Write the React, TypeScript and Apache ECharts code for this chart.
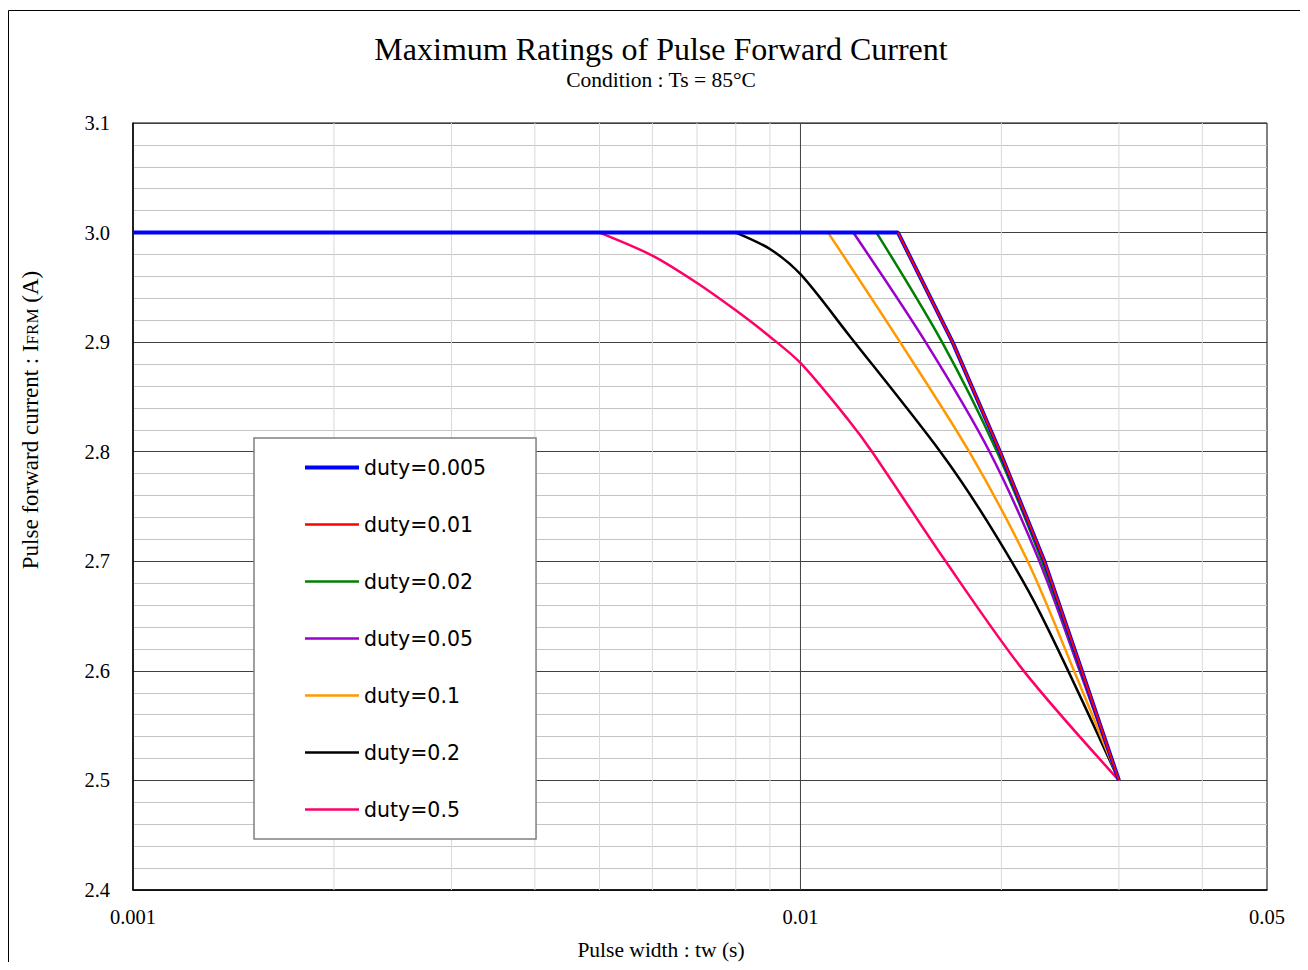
import React, { useEffect, useRef } from "react";
import * as echarts from "echarts";

const seriesNames = ["duty=0.005", "duty=0.01", "duty=0.02", "duty=0.05", "duty=0.1", "duty=0.2", "duty=0.5"];
const seriesColors = ["#0000FF", "#FF0000", "#008000", "#9900CC", "#FF9900", "#000000", "#FF0066"];
const legendWidths = [4, 2.5, 2.5, 2.5, 2.5, 2.5, 2.5];

const duty0005 = [[0.001, 3.0], [0.014, 3.0], [0.0169, 2.9], [0.0199, 2.8], [0.0232, 2.7], [0.0264, 2.6], [0.03, 2.5]];
const duty001 = [[0.014, 3.0], [0.0169, 2.9], [0.0199, 2.8], [0.0232, 2.7], [0.0264, 2.6], [0.03, 2.5]];
const duty002 = [[0.013, 3.0], [0.0163, 2.9], [0.0197, 2.8], [0.023, 2.7], [0.0263, 2.6], [0.03, 2.5]];
const duty005 = [[0.012, 3.0], [0.0154, 2.9], [0.0192, 2.8], [0.0228, 2.7], [0.0262, 2.6], [0.03, 2.5]];
const duty01 = [[0.011, 3.0], [0.0141, 2.9], [0.0179, 2.8], [0.0219, 2.7], [0.0257, 2.6], [0.03, 2.5]];
const duty02 = [[0.008, 3.0], [0.009, 2.985], [0.01, 2.962], [0.0118, 2.907], [0.0162, 2.8], [0.0192, 2.733], [0.0228, 2.654], [0.03, 2.5]];
const duty05 = [[0.005, 3.0], [0.006, 2.979], [0.007, 2.954], [0.008, 2.929], [0.009, 2.905], [0.01, 2.881], [0.0118, 2.829], [0.0128, 2.8], [0.0165, 2.7], [0.0216, 2.6], [0.03, 2.5]];

const xMinorGrid = [0.002, 0.003, 0.004, 0.005, 0.006, 0.007, 0.008, 0.009, 0.02, 0.03, 0.04];
const xMajorGrid = [0.01];
const xMin = 0.001;
const xMax = 0.05;
const yMin = 2.4;
const yMax = 3.1;
const yStep = 0.1;

const titleText = "Maximum Ratings of Pulse Forward Current";
const subtitleText = "Condition : Ts = 85°C";
const xName = "Pulse width : tw (s)";

export default function App() {
  const ref = useRef<HTMLDivElement>(null);
  useEffect(() => {
    if (!ref.current) return;
    const chart = echarts.init(ref.current, undefined, { renderer: "svg" });
    const serif = "'Liberation Serif', 'Times New Roman', serif";
    const mk = (idx: number, data: number[][], width: number, smooth: number | boolean) => ({
      name: seriesNames[idx],
      type: "line",
      data,
      symbol: "none",
      showSymbol: false,
      smooth,
      z: 3,
      lineStyle: { color: seriesColors[idx], width },
      itemStyle: { color: seriesColors[idx] },
    });
    const gridLine = (v: number, color: string) => ({
      type: "line",
      data: [[v, yMin], [v, yMax]],
      symbol: "none",
      silent: true,
      z: 1,
      lineStyle: { color, width: 1 },
      tooltip: { show: false },
    });
    const option: any = {
      animation: false,
      backgroundColor: "#ffffff",
      grid: { left: 125, top: 115, width: 1134, height: 767, show: true, borderColor: "#000", borderWidth: 1, backgroundColor: "transparent" },
      xAxis: {
        type: "log",
        logBase: 10,
        min: xMin,
        max: xMax,
        axisLine: { show: true, lineStyle: { color: "#000", width: 1.5 } },
        axisTick: { show: false },
        axisLabel: {
          color: "#000",
          fontFamily: serif,
          fontSize: 20.5,
          margin: 16,
          formatter: (v: number) => String(parseFloat(Number(v).toPrecision(6))),
        },
        splitLine: { show: false },
      },
      yAxis: {
        type: "value",
        min: yMin,
        max: yMax,
        interval: yStep,
        axisLine: { show: true, lineStyle: { color: "#000", width: 1.5 } },
        axisTick: { show: false },
        axisLabel: {
          color: "#000",
          fontFamily: serif,
          fontSize: 20.5,
          margin: 23,
          formatter: (v: number) => Number(v).toFixed(1),
        },
        splitLine: { show: true, lineStyle: { color: "#404040", width: 1 } },
        minorTick: { show: false, splitNumber: 5 },
        minorSplitLine: { show: true, lineStyle: { color: "#c4c4c4", width: 1 } },
      },
      legend: {
        orient: "vertical",
        left: 246,
        top: 430,
        data: seriesNames.map((n, i) => ({ name: n, lineStyle: { width: legendWidths[i], color: seriesColors[i] } })),
        padding: [19, 50, 19, 49],
        itemGap: 36,
        itemWidth: 54,
        itemHeight: 14,
        itemStyle: { opacity: 0 },
        backgroundColor: "#fff",
        borderColor: "#808080",
        borderWidth: 1.5,
        borderRadius: 0,
        textStyle: { fontFamily: "'DejaVu Sans', Verdana, sans-serif", fontSize: 20.5, color: "#000", lineHeight: 20 },
        selectedMode: false,
      },
      graphic: [
        { type: "rect", silent: true, shape: { x: 0.5, y: 2.5, width: 1400, height: 1100 }, style: { fill: "none", stroke: "#000", lineWidth: 1 }, z: 100 },
        { type: "text", x: 653, y: 41, style: { text: titleText, font: `32px ${serif}`, fill: "#000", textAlign: "center", textVerticalAlign: "middle" } },
        { type: "text", x: 653, y: 72, style: { text: subtitleText, font: `21.5px ${serif}`, fill: "#000", textAlign: "center", textVerticalAlign: "middle" } },
        { type: "text", x: 653, y: 942, style: { text: xName, font: `21.5px ${serif}`, fill: "#000", textAlign: "center", textVerticalAlign: "middle" } },
        {
          type: "text",
          x: 22,
          y: 412,
          rotation: Math.PI / 2,
          style: {
            text: "Pulse forward current : I{s|FRM} (A)",
            font: `23px ${serif}`,
            fontFamily: serif,
            fontSize: 23,
            fill: "#000",
            textAlign: "center",
            textVerticalAlign: "middle",
            rich: { s: { fontSize: 17, fontFamily: serif, fill: "#000", padding: [4, 0, 0, 0] } },
          },
        },
      ],
      series: [
        ...xMinorGrid.map((v) => gridLine(v, "#d9d9d9")),
        ...xMajorGrid.map((v) => gridLine(v, "#404040")),
        mk(6, duty05, 2.5, 0.3),
        mk(5, duty02, 2.5, 0.3),
        mk(4, duty01, 2.5, 0.3),
        mk(3, duty005, 2.5, 0.3),
        mk(2, duty002, 2.5, 0.3),
        mk(0, duty0005, 4, false),
        mk(1, duty001, 2, false),
      ],
    };
    chart.setOption(option);
    return () => chart.dispose();
  }, []);
  return <div ref={ref} style={{ width: 1292, height: 954 }} />;
}
